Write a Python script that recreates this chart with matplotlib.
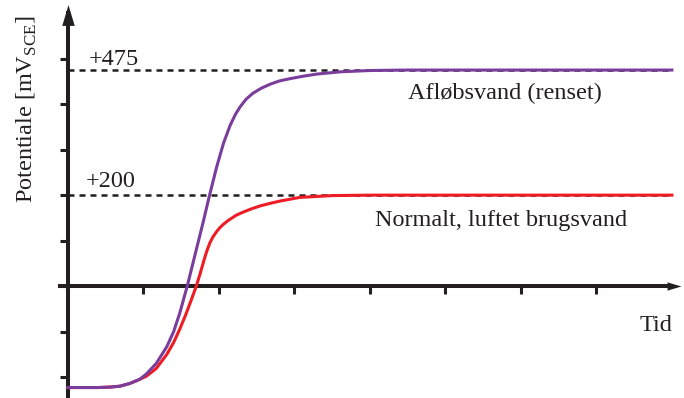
import matplotlib.pyplot as plt
import numpy as np
from matplotlib.path import Path

plt.rcParams['font.family'] = 'Liberation Serif'
plt.rcParams['mathtext.fontset'] = 'custom'
plt.rcParams['mathtext.rm'] = 'Liberation Serif'

# time (arbitrary units) and potential (mV SCE)
t_purple = [0, 0.4, 0.56, 0.69, 0.82, 0.95, 1.04, 1.17, 1.31, 1.40, 1.48, 1.58,
            1.70, 1.79, 1.87, 1.97, 2.06, 2.15, 2.22, 2.28, 2.36, 2.45, 2.56,
            2.68, 2.80, 2.94, 3.10, 3.29, 3.6, 4.0, 4.5, 8.0]
v_purple = [-223, -223, -222, -220, -214, -205, -193, -170, -133, -100, -60, 0,
            80, 140, 196, 262, 314, 354, 378, 394, 411, 424, 435,
            444, 451, 456, 461, 466, 471, 474, 475, 475]

t_red = [0, 0.4, 0.56, 0.69, 0.82, 0.95, 1.04, 1.17, 1.31, 1.40, 1.48, 1.56,
         1.63, 1.70, 1.75, 1.79, 1.82, 1.85, 1.88, 1.92, 1.97, 2.01, 2.06,
         2.12, 2.23, 2.34, 2.45, 2.56, 2.68, 2.81, 3.07, 3.5, 4.0, 8.0]
v_red = [-223, -223, -222, -220, -214, -205, -198, -181, -150, -124, -95, -63,
         -32, 0, 27, 50, 67, 82, 95, 108, 120, 128, 136,
         144, 156, 164, 171, 177, 182, 187, 195, 199, 200, 200]

levels = [475, 200]
level_labels = ['+475', '+200']
y_ticks = [-200, -100, 0, 100, 200, 300, 400, 500]
x_ticks = [1, 2, 3, 4, 5, 6, 7]

ink = '#231f20'
purple = '#7a3d9c'
red = '#ee1c25'
fs = 17.5

fig = plt.figure(figsize=(6.84, 3.98), dpi=100)
ax = fig.add_axes([0, 0, 1, 1])
ax.set_xlim(-0.9, 8.16)
ax.set_ylim(-246, 629)

# reference levels
for lv, lab, tx, ty in zip(levels, level_labels, [0.27, 0.24], [486, 218]):
    ax.plot([0, 8.0], [lv, lv], color=ink, lw=1.8, dashes=(2.4, 2.0), zorder=2)
    ax.text(tx, ty, lab, fontsize=fs, color=ink, va='baseline', ha='left')

ax.plot(t_red, v_red, color=red, lw=2.2, zorder=3, solid_joinstyle='round')
ax.plot(t_purple, v_purple, color=purple, lw=2.2, zorder=4, solid_joinstyle='round')

# axes through the origin
for s in ['top', 'right']:
    ax.spines[s].set_visible(False)
ax.spines['left'].set_position(('data', 0))
ax.spines['bottom'].set_position(('data', 0))
ax.spines['left'].set_bounds(-244, 600)
ax.spines['bottom'].set_bounds(-0.1, 7.95)
for s in ['left', 'bottom']:
    ax.spines[s].set_linewidth(2.9)
    ax.spines[s].set_color(ink)
ax.set_yticks(y_ticks)
ax.set_xticks(x_ticks)
ax.set_yticklabels([])
ax.set_xticklabels([])
ax.tick_params(direction='out', length=5.8, width=2.2, color=ink)

# arrow heads
up = Path([(0, 1), (-0.6, -1), (0.6, -1), (0, 1)], [1, 2, 2, 79])
right = Path([(1, 0), (-1, 0.6), (-1, -0.6), (1, 0)], [1, 2, 2, 79])
ax.plot([0], [595], marker=up, markersize=15, color=ink, mew=0, clip_on=False)
ax.plot([8.03], [0], marker=right, markersize=10, color=ink, mew=0, clip_on=False)

ax.text(4.5, 424, 'Afløbsvand (renset)', fontsize=fs, color=ink, va='center', ha='left')
ax.text(4.07, 145, 'Normalt, luftet brugsvand', fontsize=fs, color=ink, va='center', ha='left')
ax.text(8.01, -86, 'Tid', fontsize=fs, color=ink, va='center', ha='right')
ax.text(-0.55, 390, r'Potentiale [mV$_{\mathrm{SCE}}$]', fontsize=fs, color=ink,
        rotation=90, va='center', ha='center')

fig.savefig('out.png', dpi=100)
